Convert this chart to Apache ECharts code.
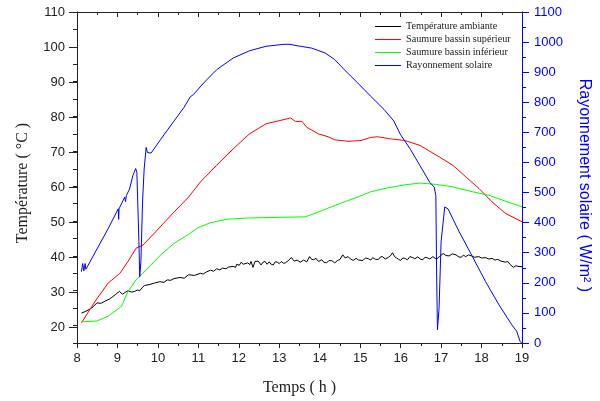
<!DOCTYPE html>
<html>
<head>
<meta charset="utf-8">
<script src="https://cdn.jsdelivr.net/npm/echarts@6/dist/echarts.min.js"></script>
<style>html,body{margin:0;padding:0;background:#fff}#c{width:600px;height:401px}</style>
</head>
<body>
<div id="c"></div>
<script>
// Series names
const seriesNames = ['Température ambiante', 'Saumure bassin supérieur', 'Saumure bassin inférieur', 'Rayonnement solaire'];

// Tick values
const xTicks = [8, 9, 10, 11, 12, 13, 14, 15, 16, 17, 18, 19];
const tempTicks = [20, 30, 40, 50, 60, 70, 80, 90, 100, 110];
const radTicks = [0, 100, 200, 300, 400, 500, 600, 700, 800, 900, 1000, 1100];

// Température ambiante [h, °C]
const ambient = [[8.11,23.6],[8.2,24.0],[8.3,24.6],[8.4,25.4],[8.49,26.5],[8.6,26.4],[8.69,27.0],[8.8,27.6],[8.86,28.1],[8.95,28.9],[9.05,29.8],[9.12,29.0],[9.2,29.6],[9.26,30.0],[9.35,29.6],[9.42,29.8],[9.5,30.2],[9.55,30.0],[9.62,31.0],[9.67,31.5],[9.8,31.8],[9.91,32.2],[10.05,32.6],[10.15,32.4],[10.23,33.1],[10.32,33.0],[10.4,33.5],[10.55,33.8],[10.65,33.6],[10.76,34.6],[10.9,34.4],[11.05,35.0],[11.12,34.8],[11.2,35.4],[11.3,35.9],[11.38,35.6],[11.45,36.3],[11.53,36.0],[11.6,36.5],[11.68,36.3],[11.75,36.8],[11.86,37.0],[11.92,36.7],[11.95,37.6],[12.01,37.3],[12.06,38.2],[12.11,37.6],[12.15,37.8],[12.22,38.0],[12.27,37.5],[12.3,38.4],[12.35,36.7],[12.4,38.4],[12.44,37.9],[12.48,38.5],[12.55,37.4],[12.6,38.2],[12.65,38.4],[12.7,37.6],[12.75,38.3],[12.8,37.6],[12.85,37.4],[12.9,38.3],[12.95,38.2],[13.0,37.8],[13.05,38.4],[13.1,37.9],[13.15,38.0],[13.22,38.6],[13.3,39.5],[13.37,38.5],[13.44,38.8],[13.52,38.2],[13.6,38.8],[13.68,38.3],[13.75,39.8],[13.8,39.0],[13.85,38.9],[13.91,39.3],[13.97,38.4],[14.05,38.9],[14.1,38.2],[14.17,38.0],[14.23,38.7],[14.3,38.6],[14.37,38.0],[14.43,38.6],[14.5,39.0],[14.57,40.3],[14.63,39.4],[14.7,39.8],[14.76,39.1],[14.83,38.7],[14.9,39.3],[14.96,38.8],[15.0,39.1],[15.07,38.7],[15.13,39.4],[15.2,39.2],[15.26,38.8],[15.31,39.5],[15.38,39.0],[15.45,39.0],[15.5,39.7],[15.55,39.8],[15.62,39.1],[15.7,39.6],[15.76,40.2],[15.8,40.9],[15.85,39.8],[15.9,39.4],[15.95,39.0],[16.0,38.7],[16.05,39.4],[16.1,39.3],[16.17,38.9],[16.23,39.8],[16.3,39.5],[16.35,39.2],[16.42,39.7],[16.5,39.0],[16.55,38.9],[16.6,39.6],[16.65,39.5],[16.72,39.1],[16.8,39.8],[16.85,39.3],[16.9,39.2],[16.97,39.9],[17.05,40.7],[17.12,40.1],[17.2,40.0],[17.28,40.6],[17.37,40.3],[17.44,39.7],[17.5,39.6],[17.55,40.2],[17.61,39.8],[17.68,40.3],[17.75,40.0],[17.83,39.6],[17.93,39.8],[18.0,39.4],[18.1,39.5],[18.18,39.1],[18.26,39.3],[18.33,38.8],[18.4,39.0],[18.48,38.5],[18.59,38.2],[18.65,38.4],[18.7,37.6],[18.79,36.7],[18.85,37.2],[18.9,37.0],[19.0,36.9]];

// Saumure bassin supérieur [h, °C]
const upper = [[8.11,20.8],[8.45,27.0],[8.77,32.2],[9.06,35.0],[9.26,38.4],[9.46,42.2],[9.63,43.1],[9.91,46.5],[10.4,52.6],[10.76,56.9],[11.05,61.2],[11.45,66.0],[11.86,70.7],[12.26,75.0],[12.67,77.9],[13.07,79.0],[13.28,79.6],[13.4,78.6],[13.56,78.6],[13.68,76.9],[13.97,75.0],[14.21,74.2],[14.37,73.3],[14.7,72.9],[15.02,73.1],[15.26,74.0],[15.43,74.2],[15.75,73.6],[16.11,73.1],[16.48,71.7],[16.97,68.3],[17.29,66.0],[17.62,62.6],[17.94,59.3],[18.26,55.5],[18.59,52.2],[19.0,49.8]];

// Saumure bassin inférieur [h, °C]
const lower = [[8.11,21.1],[8.49,21.3],[8.77,22.7],[9.1,25.5],[9.26,29.8],[9.46,33.1],[9.75,36.5],[10.07,40.3],[10.4,43.6],[10.76,46.2],[10.96,47.9],[11.29,49.5],[11.69,50.5],[12.26,50.9],[13.07,51.1],[13.64,51.2],[13.97,52.6],[14.29,54.1],[14.61,55.5],[14.94,56.9],[15.26,58.4],[15.67,59.5],[16.11,60.4],[16.48,60.9],[16.89,60.5],[17.29,59.8],[17.78,58.4],[18.18,57.4],[18.59,55.7],[19.0,54.1]];

// Rayonnement solaire [h, W/m²]
const solar = [[8.11,237],[8.14,264],[8.17,240],[8.2,264],[8.22,245],[8.77,380],[9.02,446],[9.03,411],[9.04,446],[9.18,485],[9.2,470],[9.22,490],[9.3,512],[9.38,556],[9.45,580],[9.48,567],[9.53,337],[9.55,220],[9.58,270],[9.62,469],[9.66,578],[9.71,650],[9.74,633],[9.83,631],[10.07,677],[10.4,738],[10.64,782],[10.8,818],[10.88,826],[11.13,864],[11.45,908],[11.86,947],[12.26,971],[12.67,986],[13.07,992],[13.24,993],[13.44,988],[13.8,980],[14.13,964],[14.37,942],[14.61,908],[14.94,864],[15.26,820],[15.59,776],[15.83,738],[15.99,694],[16.24,644],[16.48,589],[16.72,534],[16.83,518],[16.87,490],[16.89,226],[16.91,44],[16.95,116],[17.0,336],[17.09,452],[17.17,446],[17.45,369],[17.78,286],[18.1,204],[18.43,127],[18.75,60],[18.87,39],[18.95,6],[18.99,0]];

const SANS = 'Liberation Sans, Arial, sans-serif';
const SERIF = 'Liberation Serif, Times New Roman, serif';
const BLUE = '#0000ff';

const chart = echarts.init(document.getElementById('c'), null, {renderer: 'canvas'});
const line = (name, data, color, yIdx) => ({
  name, type: 'line', data, xAxisIndex: 0, yAxisIndex: yIdx,
  symbol: 'none', showSymbol: false, smooth: false,
  lineStyle: {color, width: 1}, itemStyle: {color}, animation: false
});

chart.setOption({
  animation: false,
  backgroundColor: '#fff',
  grid: [
    {left: 77, right: 72, top: 12, bottom: 56},
    {left: 77, right: 72, top: 12, bottom: 73.5}
  ],
  legend: {
    orient: 'vertical', left: 375, top: 21, padding: 0, itemWidth: 26, itemHeight: 1, itemGap: 2,
    icon: 'rect',
    data: seriesNames,
    textStyle: {fontFamily: SERIF, fontSize: 10.2, color: '#222', lineHeight: 11}
  },
  xAxis: [
    {
      type: 'value', gridIndex: 0, position: 'bottom', min: xTicks[0], max: xTicks[xTicks.length - 1], interval: 1,
      name: 'Temps ( h )', nameLocation: 'middle', nameGap: 37,
      nameTextStyle: {fontFamily: SERIF, fontSize: 16, color: '#222'},
      axisLine: {lineStyle: {color: '#222', width: 1}},
      axisTick: {inside: false, length: 5, lineStyle: {color: '#222'}},
      minorTick: {show: true, splitNumber: 2, length: 3, lineStyle: {color: '#222'}},
      axisLabel: {margin: 9, fontFamily: SANS, fontSize: 13, color: '#222'},
      splitLine: {show: false}
    },
    {
      type: 'value', gridIndex: 0, position: 'top', min: xTicks[0], max: xTicks[xTicks.length - 1], interval: 1,
      axisLine: {lineStyle: {color: '#222', width: 1}},
      axisTick: {inside: true, length: 5, lineStyle: {color: '#222'}},
      minorTick: {show: true, splitNumber: 2, length: 3, lineStyle: {color: '#222'}},
      axisLabel: {show: false},
      splitLine: {show: false}
    },
    {
      type: 'value', gridIndex: 1, min: xTicks[0], max: xTicks[xTicks.length - 1], show: false
    }
  ],
  yAxis: [
    {
      type: 'value', gridIndex: 0, position: 'left', min: 15, max: tempTicks[tempTicks.length - 1], interval: 5,
      name: 'Température ( °C )', nameLocation: 'middle', nameGap: 46, nameRotate: 90,
      nameTextStyle: {fontFamily: SERIF, fontSize: 16, color: '#222', padding: [0, 11, 0, 0]},
      axisLine: {show: true, lineStyle: {color: '#222', width: 1}},
      axisTick: {inside: false, length: 4, lineStyle: {color: '#222'}},
      axisLabel: {show: false},
      splitLine: {show: false}
    },
    {
      type: 'value', gridIndex: 0, position: 'right', min: radTicks[0], max: radTicks[radTicks.length - 1], interval: 100,
      name: 'Rayonnement solaire ( W/m² )', nameLocation: 'middle', nameGap: 54, nameRotate: -90,
      nameTextStyle: {fontFamily: SANS, fontSize: 16, color: BLUE, padding: [0, 0, 0, 16]},
      axisLine: {show: true, lineStyle: {color: BLUE, width: 1}},
      axisTick: {inside: false, length: 7, lineStyle: {color: BLUE}},
      minorTick: {show: true, splitNumber: 2, length: 4, lineStyle: {color: BLUE}},
      axisLabel: {margin: 12, fontFamily: SANS, fontSize: 13, color: BLUE, formatter: v => String(v)},
      splitLine: {show: false}
    },
    {
      type: 'value', gridIndex: 1, position: 'left', min: tempTicks[0], max: tempTicks[tempTicks.length - 1], interval: 10,
      axisLine: {show: false},
      axisTick: {show: true, inside: false, length: 8, lineStyle: {color: '#222'}},
      axisLabel: {margin: 12, fontFamily: SANS, fontSize: 13, color: '#222', formatter: v => String(v)},
      splitLine: {show: false}
    }
  ],
  series: [
    line(seriesNames[0], ambient, '#000000', 0),
    line(seriesNames[1], upper, '#ff0000', 0),
    line(seriesNames[2], lower, '#00ff00', 0),
    line(seriesNames[3], solar, BLUE, 1)
  ]
});
</script>
</body>
</html>
